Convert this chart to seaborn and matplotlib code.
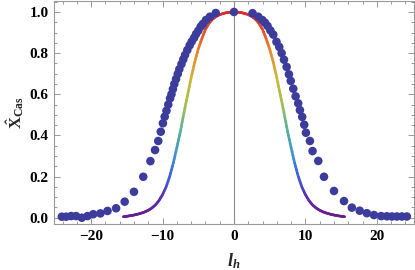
import numpy as np
import pandas as pd
import matplotlib
matplotlib.use("Agg")
import matplotlib.pyplot as plt
from matplotlib.collections import LineCollection
from matplotlib.colors import LinearSegmentedColormap
from matplotlib.ticker import MultipleLocator
import seaborn as sns

# ---- data: simulation points (l_h, X_Cas) ----
pts_x = [-24.1, -23.5, -22.8, -22.1, -21.3, -20.5, -19.7, -18.7, -17.7, -16.5,
         -15.3, -14.0, -12.7, -11.7, -11.05, -10.6, -10.25, -9.95, -9.7, -9.45,
         -9.2, -8.95, -8.75, -8.55, -8.35, -8.11, -7.87, -7.65, -7.35, -7.09,
         -6.85, -6.53, -6.2, -5.92, -5.59, -5.31, -4.99, -4.66, -4.35, -3.92,
         -3.36, -2.55,
         0.0,
         2.6, 3.4, 3.96, 4.34, 4.7, 5.1, 5.5, 5.95, 6.34, 6.67,
         7.0, 7.37, 7.69, 7.95, 8.3, 8.63, 8.99, 9.23, 9.55, 9.83,
         10.07, 10.63, 11.0, 11.8, 12.6, 14.0, 15.4, 16.5, 17.6, 18.6,
         19.6, 20.6, 21.4, 22.1, 22.8, 23.5, 24.2]
pts_y = [0.005, 0.005, 0.008, 0.008, 0.0, 0.008, 0.017, 0.021, 0.033, 0.046,
         0.078, 0.126, 0.199, 0.275, 0.329, 0.373, 0.418, 0.459, 0.491, 0.52,
         0.55, 0.58, 0.6, 0.625, 0.65, 0.674, 0.699, 0.722, 0.747, 0.77,
         0.791, 0.815, 0.838, 0.856, 0.874, 0.893, 0.909, 0.929, 0.942, 0.961,
         0.977, 0.995,
         1.0,
         0.994, 0.977, 0.961, 0.948, 0.932, 0.91, 0.89, 0.855, 0.83, 0.8,
         0.768, 0.733, 0.697, 0.665, 0.627, 0.59, 0.556, 0.523, 0.49, 0.452,
         0.413, 0.373, 0.324, 0.276, 0.199, 0.130, 0.081, 0.049, 0.034, 0.022,
         0.013, 0.008, 0.007, 0.006, 0.006, 0.006, 0.006]

# ---- data: theory curve ----
curve_x = [-15.5, -15.0, -14.5, -14.0, -13.5, -13.0, -12.5, -12.0, -11.5, -11.0,
           -10.5, -10.0, -9.5, -9.0, -8.5, -8.0, -7.5, -7.0, -6.5, -6.0,
           -5.5, -5.0, -4.5, -4.0, -3.5, -3.0, -2.5, -2.0, -1.5, -1.0,
           -0.5, 0.0, 0.5, 1.0, 1.5, 2.0, 2.5, 3.0, 3.5, 4.0,
           4.5, 5.0, 5.5, 6.0, 6.5, 7.0, 7.5, 8.0, 8.5, 9.0,
           9.5, 10.0, 10.5, 11.0, 11.5, 12.0, 12.5, 13.0, 13.5, 14.0,
           14.5, 15.0, 15.5]
curve_y = [0.005, 0.007, 0.010, 0.013, 0.017, 0.022, 0.028, 0.036, 0.047, 0.062,
           0.083, 0.112, 0.150, 0.200, 0.265, 0.340, 0.420, 0.510, 0.595, 0.680,
           0.755, 0.820, 0.870, 0.915, 0.945, 0.965, 0.978, 0.987, 0.993, 0.997,
           0.999, 1.000, 0.999, 0.997, 0.993, 0.987, 0.978, 0.965, 0.945, 0.915,
           0.870, 0.820, 0.755, 0.680, 0.595, 0.510, 0.420, 0.340, 0.265, 0.200,
           0.150, 0.112, 0.083, 0.062, 0.047, 0.036, 0.028, 0.022, 0.017, 0.013,
           0.010, 0.007, 0.005]

x_ticks = [-20, -10, 0, 10, 20]
y_ticks = [0.0, 0.2, 0.4, 0.6, 0.8, 1.0]

sns.set_style("ticks")
plt.rcParams["mathtext.fontset"] = "custom"
plt.rcParams["mathtext.rm"] = "Liberation Serif:bold"
plt.rcParams["mathtext.bf"] = "Liberation Serif:bold"
plt.rcParams["mathtext.it"] = "Liberation Serif:bold:italic"
plt.rcParams["font.family"] = ["Liberation Serif", "DejaVu Serif"]

fig = plt.figure(figsize=(4.15, 2.7), dpi=100)
ax = fig.add_axes([0.130, 0.170, 0.8676, 0.826])

frame_col = "#9a9a9a"

# vertical axis line at x=0
ax.axvline(0, color="#8c8c8c", lw=0.8, zorder=1)

# rainbow-coloured curve
rainbow = LinearSegmentedColormap.from_list(
    "mrainbow",
    [(0.0, "#6a1b8a"), (0.1, "#5a2fb8"), (0.2, "#3f5fe0"), (0.3, "#4090d0"),
     (0.42, "#55b0a0"), (0.55, "#a0c050"), (0.68, "#d4b238"), (0.8, "#e88a2c"),
     (0.92, "#e44c28"), (1.0, "#dc2a2a")])
cx = np.asarray(curve_x, float)
cy = np.asarray(curve_y, float)
segs, vals = [], []
nsub = 4
for i in range(len(cx) - 1):
    for k in range(nsub):
        t0, t1 = k / nsub, (k + 1) / nsub
        p0 = (cx[i] + (cx[i + 1] - cx[i]) * t0, cy[i] + (cy[i + 1] - cy[i]) * t0)
        p1 = (cx[i] + (cx[i + 1] - cx[i]) * t1, cy[i] + (cy[i + 1] - cy[i]) * t1)
        segs.append([p0, p1])
        vals.append((p0[1] + p1[1]) / 2)
lc = LineCollection(segs, cmap=rainbow, norm=plt.Normalize(0, 1),
                    linewidths=1.9, capstyle="round", zorder=2)
lc.set_array(np.asarray(vals))
ax.add_collection(lc)

# points
df = pd.DataFrame({"l_h": pts_x, "X": pts_y})
sns.scatterplot(data=df, x="l_h", y="X", ax=ax, color="#3c3c9c", s=38,
                edgecolor="none", linewidth=0, zorder=3)

ax.set_xlim(-25.2, 25.2)
ax.set_ylim(-0.031, 1.053)

ax.set_xticks(x_ticks)
ax.set_yticks(y_ticks)
ax.set_xticklabels([("\u2212%d" % -v) if v < 0 else "%d" % v for v in x_ticks])
ax.set_yticklabels(["%.1f" % v for v in y_ticks])
ax.xaxis.set_minor_locator(MultipleLocator(2))
ax.yaxis.set_minor_locator(MultipleLocator(0.05))
ax.tick_params(which="both", direction="in", top=True, right=True,
               color=frame_col, width=0.7)
ax.tick_params(which="major", length=4.5)
ax.tick_params(which="minor", length=2.5)
ax.tick_params(axis="both", labelsize=11, pad=4, labelcolor="black")
for lab in ax.get_xticklabels() + ax.get_yticklabels():
    lab.set_fontweight("bold")
for sp in ax.spines.values():
    sp.set_color(frame_col)
    sp.set_linewidth(0.8)

ax.set_xlabel(r"$l_h$", fontsize=13, labelpad=6)
ax.set_ylabel(r"$\hat{\mathrm{X}}_{\mathrm{Cas}}$", fontsize=12, labelpad=2)

fig.savefig("out.png", dpi=100)
